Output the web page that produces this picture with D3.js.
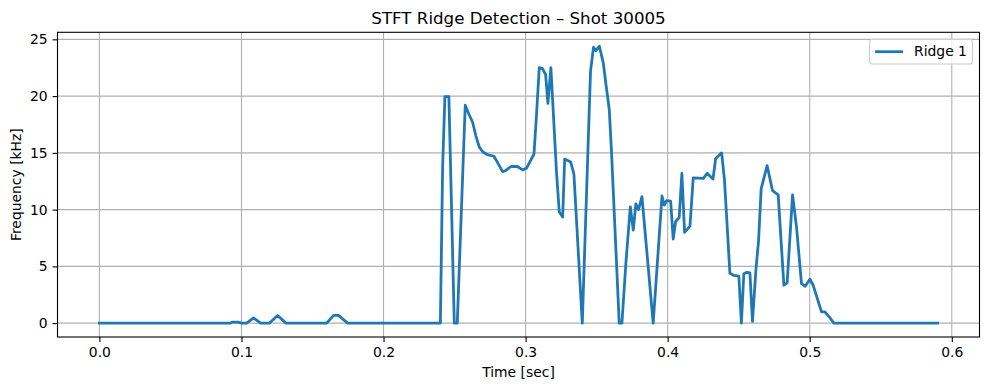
<!DOCTYPE html>
<html>
<head>
<meta charset="utf-8">
<script src="https://cdn.jsdelivr.net/npm/d3@7"></script>
<style>
  body { margin: 0; background: #fff; }
  svg { font-family: "DejaVu Sans", sans-serif; }
</style>
</head>
<body>
<div id="chart"></div>
<script>
// Ridge track (time in sec, frequency in kHz)
const timeSec = [
  0, 0.0921, 0.0935, 0.0975, 0.1, 0.1037, 0.1085, 0.1135, 0.1196, 0.1254,
  0.1313, 0.16, 0.1648, 0.1683, 0.1747, 0.2400, 0.2416, 0.2432, 0.2460, 0.2498,
  0.2519, 0.2575, 0.2601, 0.2627, 0.2650, 0.2674, 0.2702, 0.2730, 0.2777, 0.2807,
  0.2838, 0.2861, 0.2897, 0.2941, 0.2979, 0.3007, 0.3030, 0.3059, 0.3077, 0.3096,
  0.3117, 0.3141, 0.3157, 0.3178, 0.3218, 0.3237, 0.3261, 0.3275, 0.3317, 0.3340,
  0.3399, 0.3457, 0.3478, 0.3495, 0.3519, 0.3547, 0.3566, 0.3589, 0.3605, 0.3659,
  0.3678, 0.3706, 0.3737, 0.3758, 0.3776, 0.3795, 0.3819, 0.3898, 0.3960, 0.3976,
  0.3993, 0.4021, 0.4039, 0.4056, 0.4081, 0.4100, 0.4119, 0.4157, 0.4180, 0.4251,
  0.4278, 0.4319, 0.4338, 0.4380, 0.4400, 0.4438, 0.4467, 0.4501, 0.4519, 0.4536,
  0.4557, 0.4579, 0.4597, 0.4621, 0.4640, 0.4658, 0.4700, 0.4738, 0.4778, 0.4818,
  0.4841, 0.4879, 0.4907, 0.4942, 0.4968, 0.5001, 0.5024, 0.5083, 0.5107, 0.5137,
  0.5170, 0.59
];
const freqKHz = [
  0, 0, 0.09, 0.09, 0, 0, 0.47, 0, 0, 0.67,
  0, 0, 0.68, 0.68, 0, 0, 13.8, 19.95, 19.95, 0,
  0, 19.2, 18.4, 17.7, 16.5, 15.5, 15.05, 14.85, 14.7, 14.05,
  13.35, 13.45, 13.8, 13.8, 13.5, 13.65, 14.2, 14.9, 18.4, 22.5,
  22.45, 21.9, 19.35, 22.5, 13.2, 9.8, 9.35, 14.45, 14.2, 13.15,
  0, 22.2, 24.3, 24.0, 24.4, 22.9, 21.0, 18.8, 15.0, 0,
  0, 5.3, 10.25, 8.2, 10.5, 10.0, 11.15, 0, 11.2, 10.4,
  10.8, 10.75, 7.4, 8.95, 9.3, 13.2, 8.0, 8.55, 12.8, 12.75,
  13.2, 12.7, 14.5, 15.0, 12.6, 4.4, 4.2, 4.15, 0, 4.35,
  4.48, 4.42, 0.15, 4.66, 7.3, 11.83, 13.88, 11.68, 11.3, 3.34,
  3.54, 11.3, 8.46, 3.48, 3.25, 3.87, 3.34, 1.0, 1.0, 0.56,
  0, 0
];
const xTicks = [0.0, 0.1, 0.2, 0.3, 0.4, 0.5, 0.6];
const xTickLabels = ['0.0', '0.1', '0.2', '0.3', '0.4', '0.5', '0.6'];
const yTicks = [0, 5, 10, 15, 20, 25];
const seriesName = 'Ridge 1';

const width = 989, height = 390;
const plot = { left: 57.5, top: 32.3, right: 979.5, bottom: 337 };

const svg = d3.select('#chart').append('svg')
  .attr('width', width)
  .attr('height', height);

// Scales (matplotlib-style 5% margins)
const x = d3.scaleLinear().domain([-0.0295, 0.6195]).range([plot.left, plot.right]);
const y = d3.scaleLinear().domain([-1.22, 25.62]).range([plot.bottom, plot.top]);

// Grid
const grid = svg.append('g');
grid.selectAll('.vgrid')
  .data(xTicks)
  .enter().append('line')
    .attr('x1', d => x(d)).attr('x2', d => x(d))
    .attr('y1', plot.top).attr('y2', plot.bottom)
    .style('stroke', '#b0b0b0')
    .style('stroke-width', 1.1);
grid.selectAll('.hgrid')
  .data(yTicks)
  .enter().append('line')
    .attr('x1', plot.left).attr('x2', plot.right)
    .attr('y1', d => y(d)).attr('y2', d => y(d))
    .style('stroke', '#b0b0b0')
    .style('stroke-width', 1.1);

// Ridge line
const points = timeSec.map((t, i) => [t, freqKHz[i]]);
const line = d3.line().x(d => x(d[0])).y(d => y(d[1]));
svg.append('path')
  .datum(points)
  .attr('d', line)
  .style('fill', 'none')
  .style('stroke', '#1f77b4')
  .style('stroke-width', 2.78)
  .style('stroke-linejoin', 'round')
  .style('stroke-linecap', 'square');

// Axes
const xAxis = d3.axisBottom(x)
  .tickValues(xTicks)
  .tickFormat((d, i) => xTickLabels[i])
  .tickSize(4.9)
  .tickPadding(4.9)
  .tickSizeOuter(0);
const yAxis = d3.axisLeft(y)
  .tickValues(yTicks)
  .tickFormat(d3.format('d'))
  .tickSize(4.9)
  .tickPadding(4.9)
  .tickSizeOuter(0);

const gx = svg.append('g')
  .attr('transform', `translate(0,${plot.bottom})`)
  .call(xAxis);
const gy = svg.append('g')
  .attr('transform', `translate(${plot.left},0)`)
  .call(yAxis);

[gx, gy].forEach(g => {
  g.select('.domain').remove();
  g.selectAll('.tick line').style('stroke', '#000').style('stroke-width', 1.1);
  g.selectAll('.tick text')
    .style('font-family', '"DejaVu Sans", sans-serif')
    .style('font-size', '13.9px')
    .style('fill', '#000');
});
gx.selectAll('.tick text').attr('dy', '0.76em');

// Frame
svg.append('rect')
  .attr('x', plot.left).attr('y', plot.top)
  .attr('width', plot.right - plot.left)
  .attr('height', plot.bottom - plot.top)
  .style('fill', 'none')
  .style('stroke', '#000')
  .style('stroke-width', 1.1);

// Title and labels
svg.append('text')
  .attr('x', (plot.left + plot.right) / 2)
  .attr('y', 24.3)
  .attr('text-anchor', 'middle')
  .style('font-size', '16.67px')
  .style('fill', '#000')
  .text('STFT Ridge Detection \u2013 Shot 30005');

svg.append('text')
  .attr('x', (plot.left + plot.right) / 2)
  .attr('y', 377)
  .attr('text-anchor', 'middle')
  .style('font-size', '13.9px')
  .style('fill', '#000')
  .text('Time [sec]');

svg.append('text')
  .attr('transform', `translate(21,${(plot.top + plot.bottom) / 2}) rotate(-90)`)
  .attr('text-anchor', 'middle')
  .style('font-size', '13.9px')
  .style('fill', '#000')
  .text('Frequency [kHz]');

// Legend
const legend = svg.append('g').attr('transform', 'translate(869.5,39.3)');
legend.append('rect')
  .attr('width', 103)
  .attr('height', 24.7)
  .attr('rx', 2.8)
  .style('fill', 'rgba(255,255,255,0.8)')
  .style('stroke', '#cccccc')
  .style('stroke-width', 1.1);
legend.append('line')
  .attr('x1', 5.6).attr('x2', 33.4)
  .attr('y1', 12.4).attr('y2', 12.4)
  .style('stroke', '#1f77b4')
  .style('stroke-width', 2.78);
legend.append('text')
  .attr('x', 44.5)
  .attr('y', 17.2)
  .style('font-size', '13.9px')
  .style('fill', '#000')
  .text(seriesName);
</script>
</body>
</html>
